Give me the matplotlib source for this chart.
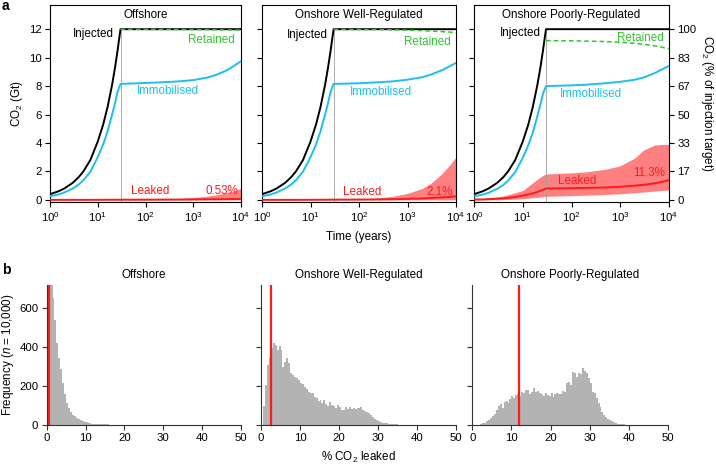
import numpy as np
import matplotlib.pyplot as plt
from matplotlib.ticker import LogLocator, NullLocator

plt.rcParams['font.family'] = ['Liberation Sans', 'DejaVu Sans']
plt.rcParams['mathtext.fontset'] = 'custom'
plt.rcParams['mathtext.rm'] = 'Liberation Sans'
plt.rcParams['mathtext.it'] = 'Liberation Sans:italic'
plt.rcParams['mathtext.bf'] = 'Liberation Sans:bold'

# ---- data, panel a (Gt CO2 against time in years) ----
panels = ["Offshore", "Onshore Well-Regulated", "Onshore Poorly-Regulated"]
leak_pct_labels = ["0.53%", "2.1%", "11.3%"]
injection_end = 30

years = [1, 1.5, 2, 3, 4, 5, 7, 10, 13, 16, 20, 23, 26, 28, 30,
         50, 100, 200, 500, 1000, 2000, 3000, 5000, 7000, 10000]
injected = [0.4, 0.6, 0.8, 1.2, 1.6, 2.0, 2.8, 4.1, 5.3, 6.5, 8.1, 9.3, 10.5, 11.3, 12.0,
            12, 12, 12, 12, 12, 12, 12, 12, 12, 12]

immob_off = [0.25, 0.38, 0.52, 0.8, 1.08, 1.38, 1.98, 3.0, 3.9, 4.8, 6.0, 6.8, 7.6, 7.9, 8.15,
             8.18, 8.22, 8.26, 8.33, 8.42, 8.6, 8.78, 9.1, 9.4, 9.75]
immob_well = [0.25, 0.38, 0.52, 0.8, 1.08, 1.38, 1.98, 3.0, 3.9, 4.8, 6.0, 6.8, 7.6, 7.9, 8.15,
              8.17, 8.2, 8.25, 8.33, 8.45, 8.62, 8.8, 9.1, 9.35, 9.63]
immob_poor = [0.25, 0.37, 0.5, 0.78, 1.05, 1.35, 1.95, 2.95, 3.85, 4.7, 5.9, 6.7, 7.45, 7.75, 8.0,
              8.02, 8.05, 8.1, 8.2, 8.3, 8.45, 8.6, 8.9, 9.15, 9.42]

leak_med_off = [0, 0, 0, 0, 0, 0, 0, 0.003, 0.005, 0.006, 0.008, 0.009, 0.01, 0.01, 0.011,
                0.012, 0.014, 0.017, 0.022, 0.03, 0.038, 0.045, 0.052, 0.058, 0.064]
leak_hi_off = [0, 0, 0, 0, 0, 0.001, 0.002, 0.005, 0.008, 0.01, 0.013, 0.016, 0.019, 0.02, 0.022,
               0.03, 0.04, 0.06, 0.1, 0.16, 0.26, 0.35, 0.5, 0.63, 0.8]
leak_lo_off = [0] * 25

leak_med_well = [0, 0, 0, 0, 0, 0, 0.001, 0.003, 0.005, 0.007, 0.01, 0.012, 0.014, 0.015, 0.016,
                 0.018, 0.022, 0.03, 0.045, 0.07, 0.1, 0.13, 0.17, 0.2, 0.25]
leak_hi_well = [0, 0, 0, 0, 0.001, 0.002, 0.003, 0.006, 0.009, 0.012, 0.016, 0.02, 0.024, 0.026, 0.028,
                0.04, 0.06, 0.1, 0.25, 0.45, 0.8, 1.15, 1.8, 2.35, 3.0]
leak_lo_well = [0] * 25

leak_med_poor = [0.02, 0.03, 0.05, 0.08, 0.11, 0.14, 0.2, 0.3, 0.38, 0.46, 0.56, 0.64, 0.71, 0.76, 0.8,
                 0.81, 0.82, 0.84, 0.87, 0.92, 1.0, 1.06, 1.16, 1.26, 1.38]
leak_hi_poor = [0.04, 0.08, 0.13, 0.2, 0.28, 0.36, 0.5, 0.66, 0.95, 1.2, 1.45, 1.6, 1.72, 1.78, 1.82,
                1.85, 1.9, 1.97, 2.15, 2.4, 2.95, 3.5, 3.85, 3.9, 3.9]
leak_lo_poor = [0, 0, 0.005, 0.01, 0.02, 0.03, 0.05, 0.08, 0.12, 0.15, 0.18, 0.2, 0.22, 0.24, 0.25,
                0.27, 0.3, 0.33, 0.38, 0.43, 0.5, 0.55, 0.62, 0.66, 0.7]

gt_ticks = [0, 2, 4, 6, 8, 10, 12]
pct_ticks = [str(round(v / 12 * 100)) for v in gt_ticks]

# ---- data, panel b (histogram counts, 0.5 % wide bins from 0) ----
bin_width = 0.5
hist_off = [380, 2000, 1100, 650, 540, 420, 345, 285, 215, 160, 115, 85, 65, 52, 44, 37, 30, 26,
            21, 17, 13, 10, 8, 7, 6, 5, 5, 4, 4, 3, 3, 3, 2, 2, 2, 2, 1, 1, 1, 1]
hist_well = [0, 100, 205, 308, 342, 393, 422, 410, 385, 405, 385, 299, 325, 342, 316, 265, 256,
             248, 239, 231, 217, 210, 193, 183, 171, 162, 166, 145, 137, 125, 128, 111, 128, 108,
             97, 120, 103, 97, 85, 101, 91, 77, 77, 90, 84, 94, 82, 86, 84, 88, 86, 90, 78, 72,
             66, 60, 52, 42, 32, 28, 22, 15, 12, 9, 8, 6, 5, 4, 4, 3, 2, 2, 1, 1]
hist_poor = [0, 0, 1, 2, 4, 8, 12, 18, 26, 34, 45, 58, 75, 100, 110, 85, 120, 125, 115, 135, 150,
             140, 155, 160, 150, 170, 165, 182, 180, 160, 170, 188, 170, 175, 165, 160, 150, 165,
             155, 148, 162, 145, 158, 166, 160, 159, 172, 171, 214, 219, 205, 273, 265, 248, 268,
             262, 290, 275, 268, 239, 214, 171, 165, 140, 112, 90, 68, 52, 42, 32, 24, 18, 13, 9,
             7, 5, 4, 3, 2, 2, 1, 1]
red_lines = [0.6, 2.5, 11.9]

BLACK = "black"
CYAN = "#1CBFF0"
GREEN = "#33C433"
RED = "#FF1A1A"
BAND = "#FF8080"
GRAY = "#B3B3B3"

immob = [immob_off, immob_well, immob_poor]
leak_med = [leak_med_off, leak_med_well, leak_med_poor]
leak_hi = [leak_hi_off, leak_hi_well, leak_hi_poor]
leak_lo = [leak_lo_off, leak_lo_well, leak_lo_poor]
hists = [hist_off, hist_well, hist_poor]

# label positions (log10 x, y) per panel
lab_pos = [
    {"Injected": (0.91, 11.67), "Retained": (3.38, 11.25), "Immobilised": (2.48, 7.66),
     "Leaked": (2.1, 0.6), "pct": (3.6, 0.65)},
    {"Injected": (0.93, 11.6), "Retained": (3.4, 11.1), "Immobilised": (2.46, 7.6),
     "Leaked": (2.06, 0.55), "pct": (3.66, 0.58)},
    {"Injected": (0.96, 11.7), "Retained": (3.42, 11.4), "Immobilised": (2.39, 7.45),
     "Leaked": (2.12, 1.34), "pct": (3.59, 1.88)},
]

W, H = 716, 467
fig = plt.figure(figsize=(W / 100, H / 100), dpi=100)

top_x = [(50, 241), (262, 456), (474, 669)]
bot_x = [(46.7, 241), (261, 456), (472.3, 668)]
TICK = 8.2
TXT = 8.4

t = np.array(years)
ie = years.index(injection_end)
for i, (x0, x1) in enumerate(top_x):
    ax = fig.add_axes([x0 / W, (H - 202) / H, (x1 - x0) / W, 197 / H])
    ax.set_xscale('log')
    ax.set_xlim(1, 1e4)
    ax.set_ylim(-0.15, 13.7)
    ax.fill_between(t, leak_lo[i], leak_hi[i], color=BAND, lw=0, zorder=1)
    ax.vlines(injection_end, -0.15, injected[ie], color="#A0A0A0", lw=0.6, zorder=2)
    ax.plot(t, leak_med[i], color=RED, lw=1.4, zorder=3)
    ax.plot(t, immob[i], color=CYAN, lw=1.4, zorder=4)
    ax.plot(t, injected, color=BLACK, lw=1.4, zorder=5)
    retained = np.array(injected[ie:]) - np.array(leak_med[i][ie:])
    ax.plot(t[ie:], retained, color=GREEN, lw=1.1, ls=(0, (3, 2)), zorder=6)

    p = lab_pos[i]
    ax.text(10 ** p["Injected"][0], p["Injected"][1], "Injected", color=BLACK,
            ha='center', va='center', fontsize=TXT)
    ax.text(10 ** p["Retained"][0], p["Retained"][1], "Retained", color=GREEN,
            ha='center', va='center', fontsize=TXT)
    ax.text(10 ** p["Immobilised"][0], p["Immobilised"][1], "Immobilised", color=CYAN,
            ha='center', va='center', fontsize=TXT)
    ax.text(10 ** p["Leaked"][0], p["Leaked"][1], "Leaked", color=RED,
            ha='center', va='center', fontsize=TXT)
    ax.text(10 ** p["pct"][0], p["pct"][1], leak_pct_labels[i], color=RED,
            ha='center', va='center', fontsize=TXT)
    ax.text(0.5, 0.95, panels[i], transform=ax.transAxes, ha='center', va='center',
            fontsize=TXT)

    ax.xaxis.set_major_locator(LogLocator(base=10, numticks=10))
    ax.xaxis.set_minor_locator(NullLocator())
    ax.set_yticks(gt_ticks)
    ax.tick_params(direction='out', length=3.5, width=0.8, pad=2.5, labelsize=TICK)
    for s in ax.spines.values():
        s.set_linewidth(0.8)
    if i == 0:
        ax.set_ylabel("CO$_2$ (Gt)", fontsize=TXT, labelpad=3)
    else:
        ax.tick_params(axis='y', labelleft=False)
    if i == 1:
        ax.set_xlabel("Time (years)", fontsize=TXT, labelpad=5)
    if i == 2:
        ax.set_yticks(gt_ticks, labels=pct_ticks)
        ax.tick_params(axis='y', right=True, labelright=True, labelleft=False)
        ax.yaxis.set_label_position('right')
        ax.set_ylabel("CO$_2$ (% of injection target)", fontsize=TXT, rotation=270,
                      labelpad=13)

edges = np.arange(0, 50 + bin_width, bin_width)
for i, (x0, x1) in enumerate(bot_x):
    ax = fig.add_axes([x0 / W, (H - 425) / H, (x1 - x0) / W, 140 / H])
    counts = hists[i]
    ax.stairs(counts, edges[:len(counts) + 1], fill=True, color=GRAY, lw=0)
    ax.axvline(red_lines[i], color=RED, lw=1.6)
    ax.set_xlim(0, 50)
    ax.set_ylim(0, 718)
    ax.set_xticks([0, 10, 20, 30, 40, 50])
    ax.set_yticks([0, 200, 400, 600])
    for s in ['top', 'right']:
        ax.spines[s].set_visible(False)
    for s in ['left', 'bottom']:
        ax.spines[s].set_linewidth(0.8)
        ax.spines[s].set_color("#333333")
    ax.tick_params(direction='out', length=3.5, width=0.8, pad=2.5, labelsize=TICK,
                   color="#333333")
    ax.set_title(panels[i], fontsize=TXT, pad=5)
    if i == 0:
        ax.set_ylabel("Frequency ($n$ = 10,000)", fontsize=TXT, labelpad=2)
    else:
        ax.tick_params(axis='y', labelleft=False)
    if i == 1:
        ax.set_xlabel("% CO$_2$ leaked", fontsize=TXT, labelpad=5)

fig.text(2 / W, 1 - 6 / H, "a", fontsize=10, fontweight='bold', ha='left', va='center')
fig.text(2 / W, 1 - 270 / H, "b", fontsize=10, fontweight='bold', ha='left', va='center')

fig.savefig("out.png", dpi=100)
